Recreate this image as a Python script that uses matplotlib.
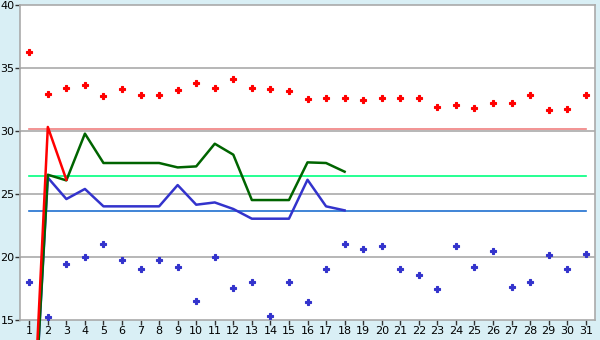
import matplotlib
matplotlib.use("Agg")
import matplotlib.pyplot as plt
import numpy as np

# x categories 1..31
days = list(range(1, 32))

# upper (red) and lower (blue) scattered points
upper_pts = [36.27, 32.94, 33.41, 33.65, 32.78, 33.33, 32.86, 32.86, 33.25, 33.83,
             33.41, 34.13, 33.41, 33.33, 33.17, 32.54, 32.62, 32.62, 32.46, 32.62,
             32.62, 32.62, 31.90, 32.06, 31.83, 32.22, 32.22, 32.86, 31.67, 31.75, 32.86]
lower_pts = [18.02, 15.26, 19.44, 20.00, 21.03, 19.76, 19.05, 19.76, 19.21, 16.51,
             20.00, 17.54, 18.02, 15.32, 18.02, 16.43, 19.05, 21.03, 20.63, 20.87,
             19.05, 18.57, 17.46, 20.87, 19.21, 20.48, 17.62, 18.02, 20.16, 19.05, 20.24]

# line series (start at 0 on day 1)
red_line = [0, 30.32, 26.13]
green_line = [0, 26.53, 26.08, 29.79, 27.46, 27.46, 27.46, 27.46, 27.11, 27.19,
              28.99, 28.12, 24.52, 24.52, 24.52, 27.51, 27.46, 26.77]
blue_line = [0, 26.30, 24.60, 25.40, 24.02, 24.02, 24.02, 24.02, 25.71, 24.15,
             24.33, 23.81, 23.04, 23.04, 23.04, 26.13, 24.02, 23.70]

# horizontal reference levels
ref_red = 30.16
ref_green = 26.45
ref_blue = 23.65

bg = "#d9eff5"
fig = plt.figure(figsize=(6, 3.4), dpi=100, facecolor=bg)
ax = fig.add_axes([20/600, 20/340, 575/600, 315/340])
ax.set_facecolor("white")

ax.set_xlim(0.5, 31.5)
ax.set_ylim(15, 40)

# grid
for v in [20, 25, 30, 35]:
    ax.axhline(v, color="#aaaaaa", lw=1.2, zorder=1)

# reference lines
ax.plot([days[0], days[-1]], [ref_red, ref_red], color="#f08080", lw=1.2, zorder=2)
ax.plot([days[0], days[-1]], [ref_green, ref_green], color="#00ff7f", lw=1.2, zorder=2)
ax.plot([days[0], days[-1]], [ref_blue, ref_blue], color="#1f6fd0", lw=1.2, zorder=2)

# lines
ax.plot(days[:len(blue_line)], blue_line, color="#3333cc", lw=1.8, zorder=3, clip_on=False)
ax.plot(days[:len(green_line)], green_line, color="#006400", lw=1.8, zorder=4, clip_on=False)
ax.plot(days[:len(red_line)], red_line, color="#ff0000", lw=1.8, zorder=5, clip_on=False)

# points
ax.plot(days, upper_pts, ls="none", marker="P", ms=5, color="#ff0000", mew=0.8, zorder=6)
ax.plot(days, lower_pts, ls="none", marker="P", ms=5, color="#3333cc", mew=0.8, zorder=6)

for s in ax.spines.values():
    s.set_color("#aaaaaa")
    s.set_linewidth(1.2)

ax.set_xticks(days)
ax.set_xticklabels([str(d) for d in days])
ax.set_yticks([15, 20, 25, 30, 35, 40])
ax.tick_params(axis="both", length=3.5, width=1, color="#333333", labelsize=8,
               labelcolor="black", pad=1)
ax.tick_params(axis="y", pad=0.5)

fig.savefig("out.png", dpi=100, facecolor=bg)
